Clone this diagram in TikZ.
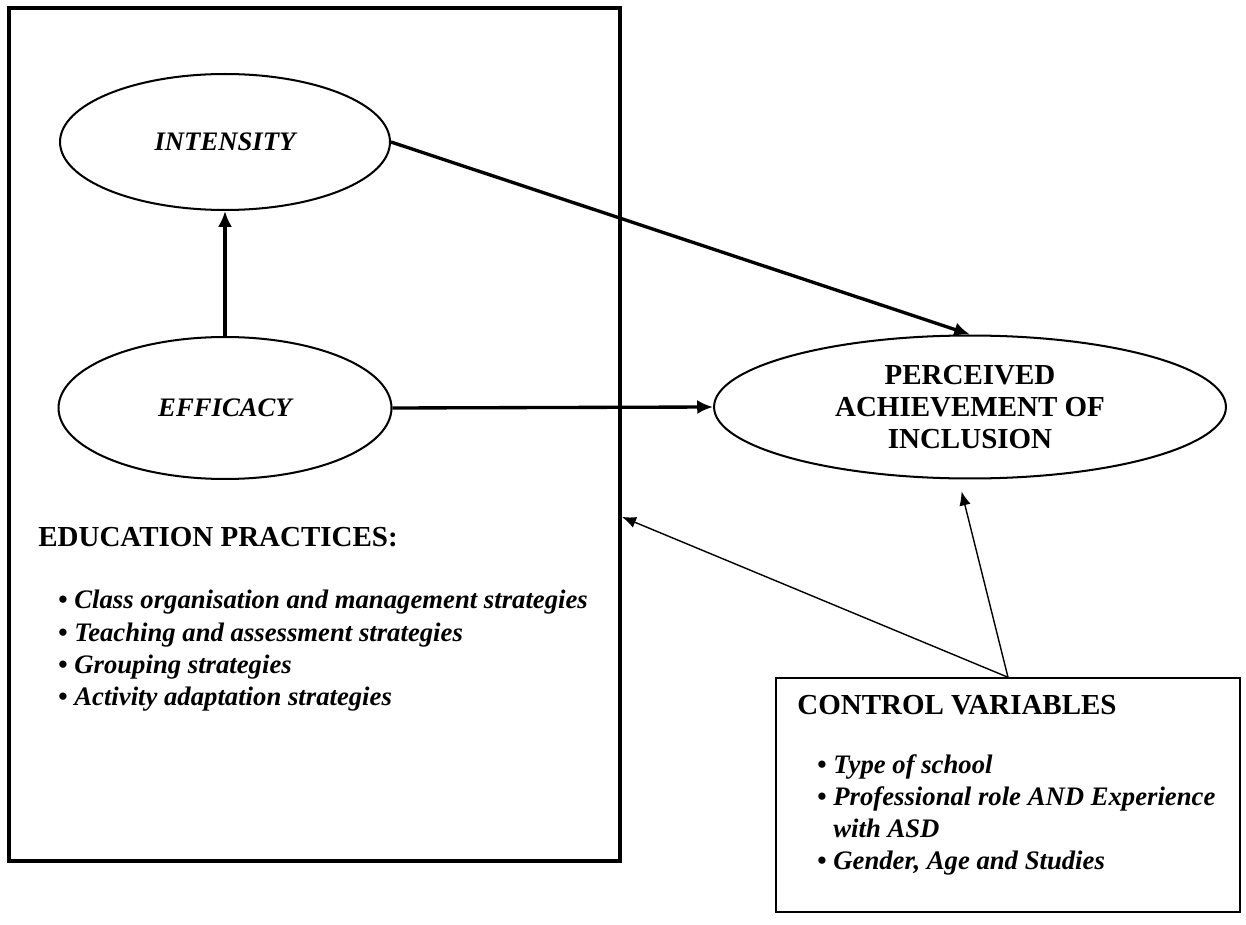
\documentclass[tikz,border=0pt]{standalone}
\usepackage{fontspec}
\setmainfont{Liberation Serif}
\usetikzlibrary{arrows.meta,shapes.geometric}

\begin{document}
\begin{tikzpicture}[x=0.02cm,y=-0.02cm,
    construct/.style={draw,ellipse,line width=1.15pt,inner sep=0pt,
        font=\fontsize{15.2}{18}\selectfont\bfseries\itshape},
    outcome/.style={draw,ellipse,line width=1.15pt,inner sep=0pt,align=center,
        font=\fontsize{16.5}{18.2}\selectfont\bfseries},
    heading/.style={anchor=west,inner sep=0pt,
        font=\fontsize{16.5}{18.2}\selectfont\bfseries},
    itemlist/.style={anchor=north west,inner sep=0pt,align=left,
        font=\fontsize{15.2}{18.3}\selectfont\bfseries},
    mainarrow/.style={-{Latex[length=9pt,width=8pt]},line width=1.9pt},
    thinarrow/.style={-{Latex[length=8pt,width=6.5pt]},line width=0.8pt}]

% Page size taken from the original figure
\useasboundingbox (0,0) rectangle (1246,925);

% Education practices frame
\node[draw,line width=2.3pt,inner sep=0pt,
    minimum width=12.22cm,minimum height=17.06cm] (practices) at (314.5,434.5) {};

% Constructs
\node[construct,minimum width=6.6cm,minimum height=2.72cm]
    (intensity) at (225,142) {INTENSITY};
\node[construct,minimum width=6.66cm,minimum height=2.84cm]
    (efficacy) at (225,408) {EFFICACY};

% Outcome
\node[outcome,minimum width=10.24cm,minimum height=2.86cm]
    (perceived) at (970,407) {PERCEIVED\\ACHIEVEMENT OF\\INCLUSION};

% Practices list
\node[heading] (practiceshead) at (38,537) {EDUCATION PRACTICES:};
\node[itemlist] (practiceslist) at (58,590)
    {\textbullet\ \textit{Class organisation and management strategies}\\
     \textbullet\ \textit{Teaching and assessment strategies}\\
     \textbullet\ \textit{Grouping strategies}\\
     \textbullet\ \textit{Activity adaptation strategies}};

% Control variables box
\node[draw,line width=0.85pt,inner sep=0pt,
    minimum width=9.28cm,minimum height=4.68cm] (control) at (1008,795) {};
\node[heading] (controlhead) at (797,705) {CONTROL VARIABLES};
\node[itemlist] (controllist) at (817,754)
    {\textbullet\ \textit{Type of school}\\
     \textbullet\ \textit{Professional role AND Experience}\\
     \phantom{\textbullet\ }\textit{with ASD}\\
     \textbullet\ \textit{Gender, Age and Studies}};

% Paths
\draw[mainarrow] (efficacy.north) -- (intensity.south);
\draw[mainarrow] (intensity.east) -- (perceived.north);
\draw[mainarrow] (efficacy.east) -- (perceived.west);

% Control effects
\draw[thinarrow] (control.north) -- (practices.-15);
\draw[thinarrow,shorten >=7pt] (control.north) -- (perceived.261);

\end{tikzpicture}
\end{document}
